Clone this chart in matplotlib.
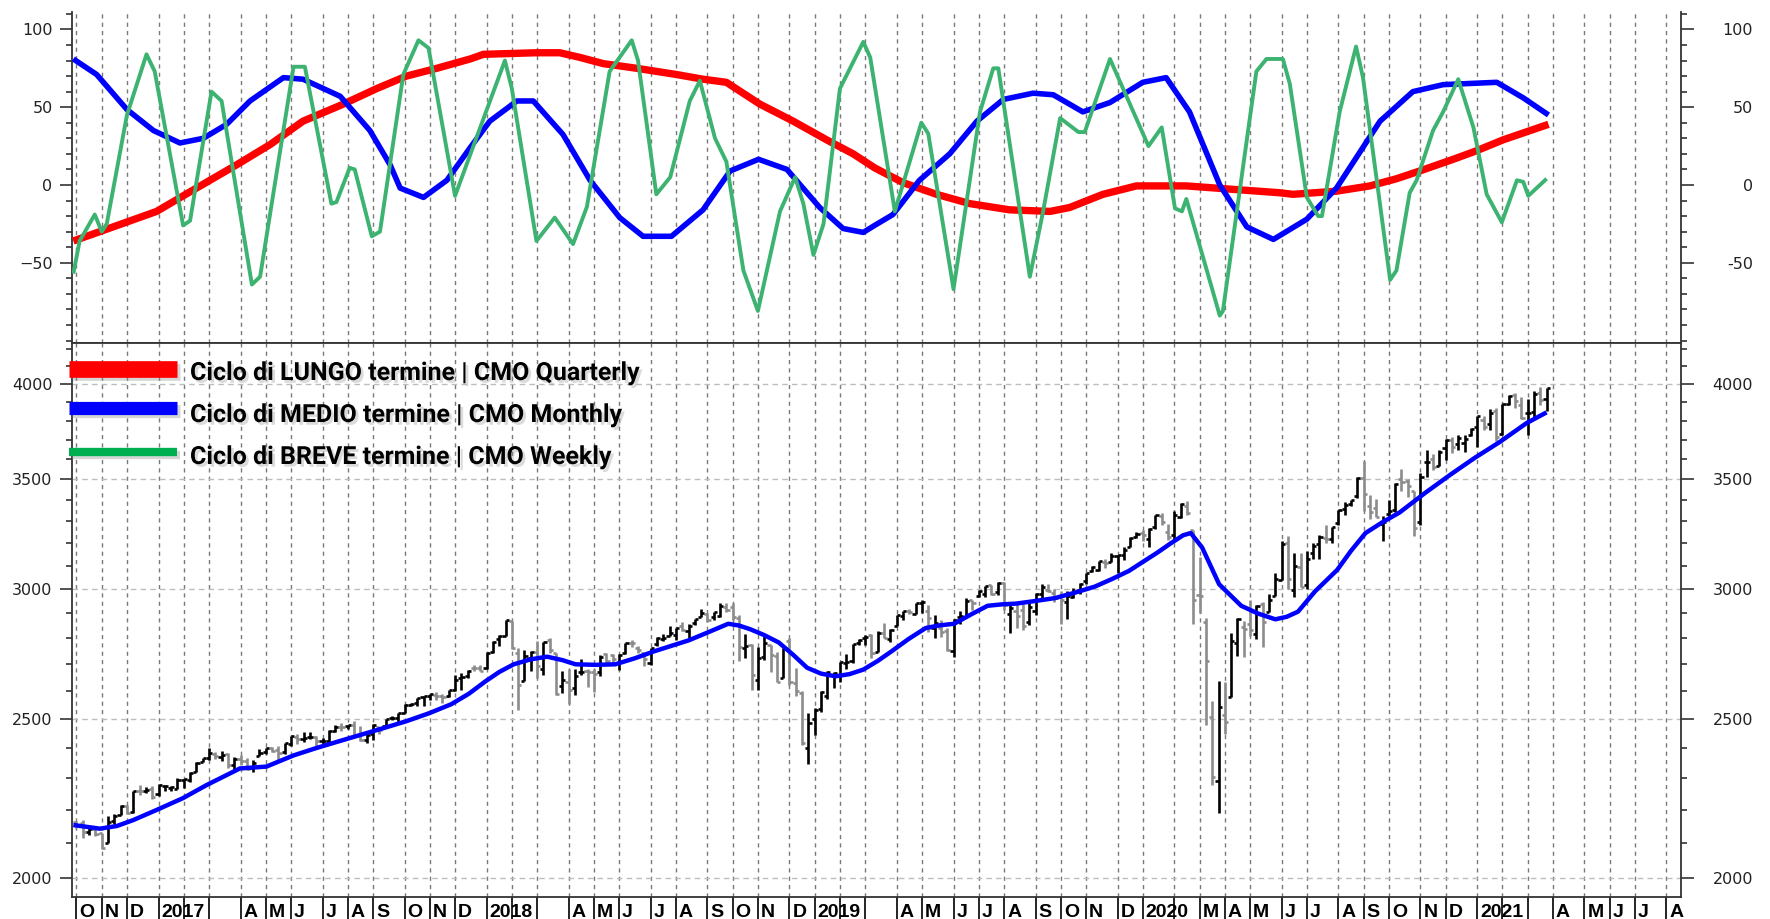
import numpy as np
import pandas as pd
import matplotlib
matplotlib.use("Agg")
import matplotlib.pyplot as plt
from matplotlib.lines import Line2D
from matplotlib.collections import LineCollection
from matplotlib import patheffects as pe
from matplotlib.ticker import FixedLocator, NullFormatter, FuncFormatter

# ---------------- weekly S&P 500 bars (Friday dated, first bar = 2016-10-07) -------------
AXIS_START = "2016-10-07"
N_AXIS_WEEKS = 255

opens = [
    2164, 2160, 2134, 2142, 2129, 2101, 2165, 2186, 2211, 2194, 2260, 2260, 2266,
    2251, 2274, 2270, 2267, 2294, 2296, 2321, 2354, 2367, 2380, 2371, 2379, 2344, 2363, 2357, 2333, 2374, 2388, 2400, 2393,
    2387, 2415, 2437, 2431, 2437, 2436, 2424, 2425, 2459, 2473, 2475, 2478, 2442, 2428, 2447, 2471, 2474, 2502, 2503, 2521,
    2550, 2555, 2579, 2583, 2587, 2580, 2583, 2603, 2646, 2655, 2685, 2684,
    2684, 2745, 2798, 2810, 2867, 2741, 2637, 2722, 2745, 2681, 2791, 2741, 2619, 2634, 2611, 2670, 2675, 2670, 2669, 2738,
    2735, 2705, 2743, 2781, 2763, 2742, 2704, 2776, 2797, 2810, 2812, 2850, 2827, 2862, 2884, 2896, 2884, 2889, 2927, 2926,
    2882, 2763, 2773, 2640, 2727, 2773, 2730, 2649, 2790, 2630, 2591, 2401,
    2498, 2535, 2581, 2659, 2657, 2703, 2712, 2780, 2799, 2814, 2747, 2822, 2797, 2848, 2889, 2910, 2898, 2940, 2909, 2840,
    2841, 2830, 2751, 2886, 2886, 2952, 2972, 2980, 3018, 2986, 3026, 2898, 2907, 2913, 2866, 2910, 2980, 2996, 2983, 2967,
    2944, 2965, 2996, 3033, 3078, 3081, 3117, 3117, 3144, 3147, 3183, 3227,
    3247, 3218, 3273, 3325, 3248, 3236, 3318, 3370, 3257, 2974, 2864, 2508, 2290, 2514, 2579, 2782, 2846, 2855, 2815, 2938,
    2905, 2969, 3038, 3199, 2994, 3094, 3018, 3155, 3197, 3224, 3219, 3289, 3356, 3380, 3419, 3508, 3370, 3363, 3285, 3333,
    3350, 3500, 3493, 3441, 3296, 3583, 3600, 3566, 3654, 3699, 3675, 3684,
    3723, 3764, 3803, 3782, 3851, 3731, 3892, 3939, 3886, 3842, 3844, 3949, 3917,
]
highs = [
    2165, 2169, 2148, 2150, 2131, 2182, 2189, 2214, 2214, 2260, 2278, 2272, 2274,
    2282, 2279, 2276, 2301, 2299, 2319, 2352, 2368, 2401, 2386, 2390, 2382, 2370, 2378, 2366, 2361, 2398, 2400, 2403, 2406,
    2418, 2440, 2446, 2454, 2454, 2442, 2433, 2463, 2478, 2484, 2480, 2491, 2474, 2454, 2481, 2471, 2500, 2509, 2519, 2552,
    2557, 2575, 2582, 2589, 2597, 2590, 2605, 2657, 2665, 2679, 2695, 2695,
    2747, 2787, 2811, 2873, 2870, 2763, 2754, 2748, 2790, 2786, 2802, 2741, 2672, 2683, 2680, 2718, 2683, 2682, 2733, 2743,
    2739, 2737, 2779, 2791, 2770, 2746, 2762, 2804, 2816, 2848, 2841, 2864, 2856, 2877, 2917, 2900, 2906, 2941, 2940, 2940,
    2894, 2817, 2778, 2766, 2816, 2775, 2747, 2760, 2800, 2685, 2601, 2520,
    2538, 2598, 2675, 2669, 2709, 2738, 2776, 2795, 2814, 2816, 2830, 2860, 2836, 2893, 2910, 2917, 2940, 2954, 2932, 2892,
    2872, 2841, 2876, 2910, 2964, 2954, 2996, 3014, 3018, 3028, 3028, 2945, 2943, 2939, 2940, 2985, 3021, 3022, 2999, 2993,
    2993, 3003, 3027, 3067, 3098, 3120, 3127, 3154, 3146, 3183, 3226, 3248,
    3258, 3268, 3330, 3338, 3286, 3347, 3385, 3393, 3260, 3137, 2882, 2564, 2637, 2632, 2819, 2880, 2869, 2955, 2934, 2945,
    2980, 3068, 3211, 3233, 3155, 3155, 3165, 3198, 3236, 3280, 3272, 3352, 3388, 3399, 3509, 3588, 3425, 3402, 3325, 3398,
    3482, 3550, 3502, 3441, 3529, 3646, 3628, 3644, 3701, 3712, 3726, 3723,
    3760, 3827, 3824, 3861, 3870, 3889, 3937, 3950, 3929, 3914, 3960, 3984, 3978,
]
lows = [
    2144, 2115, 2125, 2122, 2084, 2100, 2156, 2186, 2187, 2191, 2248, 2254, 2234,
    2245, 2258, 2258, 2266, 2268, 2288, 2321, 2352, 2361, 2363, 2358, 2335, 2322, 2344, 2328, 2322, 2374, 2379, 2387, 2353,
    2381, 2407, 2415, 2419, 2430, 2405, 2407, 2415, 2455, 2459, 2466, 2437, 2425, 2418, 2428, 2446, 2474, 2496, 2488, 2520,
    2545, 2547, 2544, 2566, 2566, 2557, 2577, 2601, 2605, 2647, 2673, 2672,
    2683, 2742, 2769, 2808, 2758, 2533, 2635, 2675, 2647, 2658, 2741, 2585, 2594, 2554, 2587, 2660, 2613, 2595, 2656, 2702,
    2699, 2676, 2737, 2764, 2741, 2691, 2698, 2770, 2790, 2808, 2791, 2830, 2802, 2853, 2884, 2864, 2874, 2886, 2903, 2874,
    2710, 2724, 2603, 2604, 2717, 2671, 2631, 2649, 2621, 2583, 2409, 2346,
    2443, 2524, 2571, 2612, 2631, 2681, 2704, 2775, 2775, 2722, 2747, 2800, 2786, 2848, 2873, 2898, 2898, 2900, 2826, 2801,
    2805, 2750, 2728, 2855, 2880, 2913, 2965, 2966, 2975, 2976, 2914, 2822, 2840, 2834, 2853, 2891, 2964, 2988, 2946, 2856,
    2875, 2963, 2977, 3023, 3071, 3075, 3091, 3115, 3070, 3123, 3183, 3222,
    3210, 3182, 3263, 3280, 3214, 3216, 3315, 3328, 2856, 2902, 2479, 2280, 2192, 2448, 2579, 2729, 2728, 2810, 2797, 2766,
    2905, 2969, 3038, 2999, 2966, 3007, 2999, 3128, 3127, 3200, 3198, 3284, 3328, 3369, 3410, 3349, 3310, 3317, 3209, 3323,
    3343, 3441, 3415, 3233, 3280, 3511, 3545, 3564, 3594, 3633, 3645, 3636,
    3720, 3663, 3749, 3749, 3694, 3725, 3885, 3866, 3806, 3723, 3806, 3886, 3854,
]
closes = [
    2153, 2133, 2141, 2126, 2085, 2164, 2182, 2213, 2192, 2260, 2258, 2263, 2239,
    2277, 2275, 2271, 2295, 2297, 2316, 2351, 2367, 2383, 2372, 2378, 2344, 2363, 2355, 2329, 2349, 2384, 2399, 2391, 2382,
    2416, 2439, 2432, 2433, 2438, 2423, 2425, 2459, 2473, 2472, 2477, 2441, 2426, 2443, 2477, 2461, 2500, 2502, 2519, 2549,
    2553, 2575, 2581, 2588, 2582, 2579, 2602, 2642, 2652, 2675, 2684, 2674,
    2743, 2786, 2810, 2873, 2762, 2620, 2732, 2747, 2691, 2786, 2752, 2588, 2641, 2604, 2656, 2670, 2670, 2663, 2728, 2713,
    2721, 2735, 2779, 2780, 2755, 2718, 2760, 2801, 2802, 2819, 2840, 2833, 2850, 2875, 2902, 2872, 2905, 2930, 2914, 2886,
    2767, 2768, 2658, 2723, 2781, 2736, 2633, 2760, 2633, 2600, 2417, 2486,
    2532, 2596, 2671, 2665, 2707, 2708, 2776, 2793, 2804, 2743, 2822, 2800, 2834, 2893, 2907, 2905, 2940, 2946, 2881, 2860,
    2826, 2752, 2873, 2887, 2950, 2942, 2990, 3014, 2977, 3026, 2932, 2919, 2889, 2847, 2926, 2979, 3007, 2992, 2962, 2952,
    2970, 2986, 3023, 3067, 3093, 3120, 3110, 3141, 3146, 3169, 3221, 3240,
    3235, 3265, 3330, 3295, 3226, 3328, 3380, 3338, 2954, 2972, 2711, 2305, 2541, 2489, 2790, 2875, 2837, 2831, 2930, 2864,
    2955, 3044, 3194, 3041, 3098, 3009, 3130, 3185, 3225, 3216, 3271, 3351, 3373, 3397, 3508, 3427, 3341, 3319, 3298, 3348,
    3477, 3484, 3465, 3270, 3510, 3585, 3558, 3638, 3699, 3663, 3709, 3703,
    3756, 3825, 3768, 3841, 3714, 3887, 3934, 3907, 3811, 3842, 3943, 3913, 3975,
]

# moving average line on price panel (week index, value)
ma_x = [-0.5, 3.7, 6.4, 9.0, 12.7, 16.9, 20.6, 25.9, 30.1, 34.4, 37.9, 41.5, 45.1, 48.7, 52.3, 55.9, 59.4, 62.2,
        64.8, 67.0, 69.3, 72.0, 74.6, 77.0, 79.1, 82.3, 85.4, 88.5, 91.6, 94.3, 97.0, 100.2, 103.3, 105.0, 106.8,
        109.0, 111.3, 113.6, 115.8, 118.0, 120.3, 122.5, 124.7, 127.0, 129.2, 131.9, 134.6, 136.9, 139.1, 141.8,
        144.4, 146.7, 148.9, 152.0, 155.1, 158.3, 161.4, 164.1, 166.8, 169.0, 171.3, 173.4, 175.4, 176.6, 178.4,
        181.1, 184.6, 187.3, 190.0, 191.8, 193.6, 196.3, 199.8, 202.0, 204.3, 207.0, 209.7, 213.7, 217.7, 221.6,
        225.6, 229.8, 233.0]
ma_y = [2154, 2143, 2151, 2169, 2200, 2237, 2278, 2332, 2338, 2375, 2399, 2422, 2445, 2468, 2492, 2520, 2552, 2590,
        2635, 2670, 2699, 2718, 2728, 2715, 2699, 2697, 2699, 2722, 2749, 2770, 2791, 2824, 2857, 2850, 2835,
        2812, 2783, 2735, 2686, 2664, 2654, 2662, 2679, 2712, 2749, 2797, 2840, 2851, 2857, 2895,
        2930, 2936, 2939, 2950, 2962, 2985, 3010, 3042, 3077, 3116, 3157, 3198, 3235, 3245, 3180,
        3020, 2930, 2898, 2875, 2885, 2906, 2990, 3081, 3165, 3245, 3295, 3340, 3432, 3521, 3606,
        3688, 3786, 3844]

# CMO oscillators (week index, value)
red_x = [-0.5, 3.7, 12.7, 16.9, 25.4, 30.7, 35.9, 42.3, 47.6, 52.3, 57.1, 62.4, 64.5, 72.9, 76.6, 79.8, 83.5,
         88.8, 95.1, 99.3, 103.0, 108.3, 113.6, 118.9, 123.1, 126.5, 131.0, 136.3, 141.6, 147.9, 154.3, 157.4,
         162.7, 168.0, 175.9, 183.9, 190.7, 192.8, 199.7, 205.0, 209.2, 212.9, 218.2, 221.9, 226.1, 233.3]
red_y = [-36, -30, -17, -7, 13, 26, 41, 52, 62, 70, 75, 81, 84, 85, 85, 82, 78,
         75, 71, 68, 66, 52, 41, 29, 20, 11, 1.5, -6, -12, -16, -17, -14.5,
         -6, -0.6, -0.6, -3, -5, -6, -4, -0.6, 4, 9, 16.5, 22, 29, 39]

blue_x = [-0.5, 3.2, 8.0, 12.2, 16.4, 20.1, 23.8, 27.5, 32.8, 35.9, 41.8, 46.5, 49.7, 51.3, 55.0, 58.7, 62.4,
          65.5, 69.8, 72.4, 77.1, 81.4, 86.1, 89.8, 94.3, 99.3, 103.6, 108.1, 112.6, 117.8, 121.5, 124.7, 126.5,
          129.4, 133.6, 138.4, 142.7, 146.9, 151.6, 154.8, 159.5, 163.8, 169.0, 172.7, 176.4, 181.2, 185.5,
          189.7, 195.0, 199.7, 206.6, 211.8, 216.6, 225.1, 229.3, 233.3]
blue_y = [81, 71, 48.5, 35, 27, 30, 39, 54, 69, 68, 57, 35, 13, -2, -8, 3, 24,
          41, 54, 54, 32.5, 3, -21, -33, -33, -16, 9, 16.5, 10, -14.5, -28, -30.5, -26,
          -19, 3, 20, 41, 55, 59, 58, 47, 53, 66, 69, 47, 0, -27,
          -35, -22, -2, 41, 60, 64.5, 66, 56, 45]

green_x = [-0.5, 0.5, 2.9, 4.0, 4.8, 8.0, 11.1, 12.4, 16.9, 18.0, 21.4, 23.0, 27.8, 29.1, 34.4, 36.2, 40.4,
           41.2, 43.3, 44.1, 46.8, 48.1, 51.8, 54.2, 55.8, 60.0, 67.9, 69.0, 72.9, 75.8, 78.7, 80.9, 84.5,
           88.0, 89.0, 91.9, 94.1, 97.2, 98.8, 101.2, 103.0, 105.7, 108.0, 111.5, 113.9, 115.2, 116.8, 118.4,
           121.0, 124.7, 125.8, 129.7, 133.9, 135.0, 139.0, 143.2, 145.3, 146.1, 151.1, 153.2, 155.9, 158.8,
           159.8, 163.8, 169.9, 172.0, 174.1, 175.2, 175.9, 181.2, 181.7, 187.0, 188.6, 191.2, 192.3, 195.0,
           196.8, 197.4, 200.2, 202.8, 203.9, 208.2, 209.2, 211.3, 212.4, 215.0, 216.6, 219.0, 221.4, 223.5,
           225.9, 228.3, 229.3, 230.1, 233.0]
green_y = [-57, -36, -19, -30, -25, 45, 84, 73, -26, -23, 60, 54, -64, -59, 76, 76, -12,
           -11, 11, 10, -33, -30, 71, 93, 88, -7, 80, 62, -36, -21, -38, -14, 73,
           93, 80, -6, 5, 54, 67, 30, 15, -55, -81, -17, 5, -12, -45, -25,
           62, 92, 82, -17, 40, 33, -67, 47, 75, 75, -59, -17, 43, 34,
           34, 81, 25, 37, -15, -17, -9, -84, -81, 73, 81, 81, 65, -8,
           -20, -20, 47, 89, 69, -61, -55, -5, 3, 35, 47, 68, 37, -6,
           -24, 3, 2, -7, 4]

month_labels = ["O", "N", "D",
                "2017", "", "", "A", "M", "J", "J", "A", "S", "O", "N", "D",
                "2018", "", "", "A", "M", "J", "J", "A", "S", "O", "N", "D",
                "2019", "", "", "A", "M", "J", "J", "A", "S", "O", "N", "D",
                "2020", "", "M", "A", "M", "J", "J", "A", "S", "O", "N", "D",
                "2021", "", "", "A", "M", "J", "J", "A"]

osc_ticks = [-50, 0, 50, 100]
price_ticks = [2000, 2500, 3000, 3500, 4000]

legend_labels = ["Ciclo di LUNGO termine | CMO Quarterly",
                 "Ciclo di MEDIO termine | CMO Monthly",
                 "Ciclo di BREVE termine | CMO Weekly"]

# ---------------- axis calendar ----------------
dates = pd.date_range(AXIS_START, periods=N_AXIS_WEEKS, freq="W-FRI")
dates = pd.DatetimeIndex([d - pd.Timedelta(days=1) if (d.month == 1 and d.day == 1) else d for d in dates])
ym = dates.year * 12 + dates.month
bounds = [0] + [i for i in range(1, len(dates)) if ym[i] != ym[i - 1]]

# ---------------- figure ----------------
W, H = 1770, 919
fig = plt.figure(figsize=(W / 100, H / 100), dpi=100)
fig.patch.set_facecolor("white")


def fx(px):
    return px / W


def fy(py):
    return 1 - py / H


L, R = 72, 1681
T1, B1, B2 = 12, 343, 897
ax1 = fig.add_axes([fx(L), fy(B1), fx(R) - fx(L), fy(T1) - fy(B1)])
ax2 = fig.add_axes([fx(L), fy(B2), fx(R) - fx(L), fy(B1) - fy(B2)])

XLIM = (-0.71, 254.3)
SPINE_C = "#333333"
TICK_C = "#222222"
GRID_V = dict(color="#7a7a7a", lw=1.0, ls=(0, (3, 3)))

for ax in (ax1, ax2):
    ax.set_xlim(*XLIM)
    ax.set_axisbelow(True)
    for s in ax.spines.values():
        s.set_color(SPINE_C)
        s.set_linewidth(1.3)
    ax.set_xticks(bounds)
    ax.xaxis.grid(True, **GRID_V)
    ax.tick_params(axis="y", which="major", length=9, width=1.2, color=SPINE_C,
                   left=True, right=True, labelleft=True, labelright=False,
                   labelsize=11.5, labelcolor=TICK_C, pad=5)
    ax.tick_params(axis="y", which="minor", length=4.5, width=1.2, color=SPINE_C, left=True, right=True)

# ---- top panel ----
ax1.spines["top"].set_visible(False)
ax1.set_ylim(-101.6, 111.2)
ax1.tick_params(axis="x", length=0, labelbottom=False)
ax1.yaxis.set_major_locator(FixedLocator(osc_ticks))
ax1.yaxis.set_minor_locator(FixedLocator(list(range(-100, 111, 10))))
ax1.yaxis.set_minor_formatter(NullFormatter())
ax1.plot(red_x, red_y, color="#FF0000", lw=5.3, solid_capstyle="butt", zorder=3)
ax1.plot(blue_x, blue_y, color="#0000FF", lw=4.0, solid_capstyle="butt", zorder=4)
ax1.plot(green_x, green_y, color="#3CB371", lw=2.8, solid_capstyle="butt", zorder=5)

# ---- bottom panel ----
ax2.set_yscale("log")
ax2.set_ylim(1947, 4237)
ax2.yaxis.set_major_locator(FixedLocator(price_ticks))
ax2.yaxis.set_major_formatter(FuncFormatter(lambda v, p: f"{v:.0f}"))
ax2.yaxis.set_minor_locator(FixedLocator(list(range(2000, 4201, 100))))
ax2.yaxis.set_minor_formatter(NullFormatter())
ax2.yaxis.grid(True, which="major", color="#bdbdbd", lw=1.0, ls=(0, (4, 3)))
ax2.tick_params(axis="x", which="major", direction="out", length=16, width=1.2,
                color="black", labelbottom=False)

# OHLC bars
up_segs, dn_segs = [], []
for i, (o, h, l, c) in enumerate(zip(opens, highs, lows, closes)):
    segs = [[(i, l), (i, h)], [(i - 0.5, o), (i, o)], [(i, c), (i + 0.5, c)]]
    (up_segs if c >= o else dn_segs).extend(segs)
ax2.add_collection(LineCollection(dn_segs, colors="#8c8c8c", linewidths=1.9, zorder=3))
ax2.add_collection(LineCollection(up_segs, colors="#000000", linewidths=1.9, zorder=3))
ax2.plot(ma_x, ma_y, color="#0000FF", lw=3.2, zorder=4, solid_capstyle="butt", solid_joinstyle="round")

# month labels in the strip below the price panel
for b, lab in zip(bounds, month_labels):
    if lab:
        ax2.annotate(lab, xy=(b, 0), xycoords=("data", "axes fraction"),
                     xytext=(2.2, -14.3), textcoords="offset points",
                     ha="left", va="baseline", fontsize=14, fontweight="bold",
                     family=["Liberation Sans", "DejaVu Sans"], color="black",
                     annotation_clip=False)

# right-hand tick labels, right aligned at x = 1753 px
RIGHT_OFF = (1753 - R) * 0.72
for v in osc_ticks:
    ax1.annotate(f"{v}", xy=(1, v), xycoords=("axes fraction", "data"),
                 xytext=(RIGHT_OFF, 0), textcoords="offset points",
                 ha="right", va="center_baseline", fontsize=11.5, color=TICK_C,
                 annotation_clip=False)
for v in price_ticks:
    ax2.annotate(f"{v}", xy=(1, v), xycoords=("axes fraction", "data"),
                 xytext=(RIGHT_OFF, 0), textcoords="offset points",
                 ha="right", va="center_baseline", fontsize=11.5, color=TICK_C,
                 annotation_clip=False)

# legend
leg_colors = ["#FF0000", "#0000FF", "#00B050"]
leg_lw = [12.0, 9.5, 6.0]
bar_y = [369, 408, 452]
text_base = [380, 422, 464]
for col, lw, yb, yt, lab in zip(leg_colors, leg_lw, bar_y, text_base, legend_labels):
    ln = Line2D([fx(69), fx(177)], [fy(yb), fy(yb)], transform=fig.transFigure, color=col, lw=lw,
                solid_capstyle="butt", zorder=10,
                path_effects=[pe.SimpleLineShadow(offset=(2.5, -2.5), shadow_color="#888888", alpha=0.35),
                              pe.Normal()])
    fig.add_artist(ln)
    fig.text(fx(190), fy(yt), lab, ha="left", va="baseline", fontsize=18, fontweight="bold",
             family=["Roboto", "DejaVu Sans"], color="black", zorder=10,
             path_effects=[pe.SimplePatchShadow(offset=(2, -2), shadow_rgbFace="#888888", alpha=0.3),
                           pe.Normal()])

fig.savefig("out.png", dpi=100, facecolor="white")
